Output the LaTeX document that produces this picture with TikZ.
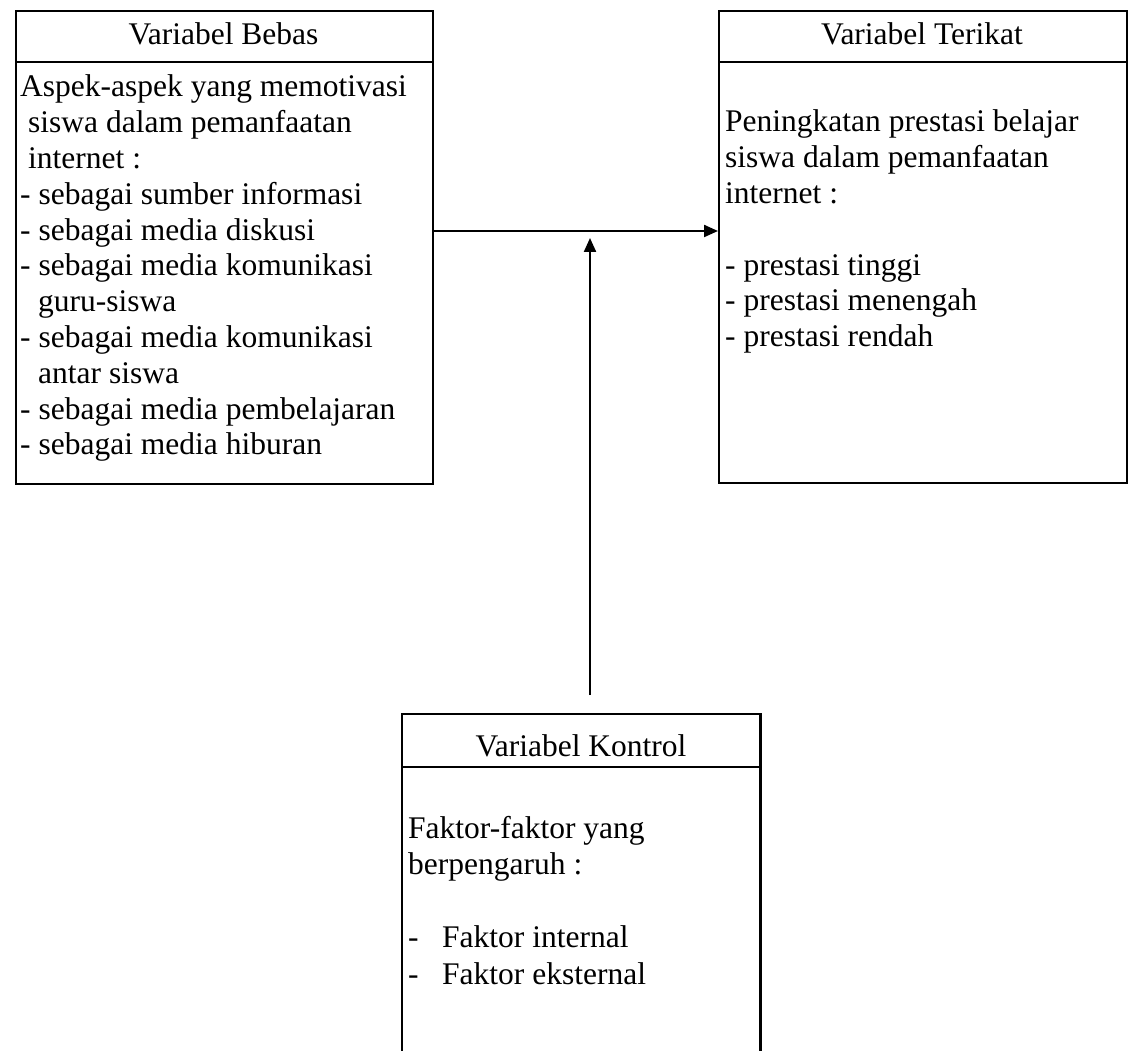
\documentclass[tikz,border=0pt]{standalone}
\usepackage{fontspec}
\setmainfont{Liberation Serif}
\usetikzlibrary{arrows.meta}
\newcommand\bodyfnt{\fontsize{31.5}{35.8}\selectfont}
\tikzset{
  boxframe/.style={draw, line width=2.2pt, inner sep=0pt, anchor=north west},
  headtxt/.style={font=\bodyfnt, inner sep=0pt, anchor=base},
  bodytxt/.style={font=\bodyfnt, inner sep=0pt, anchor=base west},
  sepline/.style={line width=2.2pt},
  conn/.style={line width=2.2pt, -{Triangle[length=14pt,width=12pt]}}
}
\begin{document}
\begin{tikzpicture}[x=1pt,y=-1pt]
\useasboundingbox[fill=white] (0,0) rectangle (1128,1051);

% Variabel Bebas
\node[boxframe, minimum width=417pt, minimum height=473pt] (bebas) at (15,10) {};
\draw[sepline] ([yshift=-52pt]bebas.north west) -- ([yshift=-52pt]bebas.north east);
\node[headtxt] (hbebas) at (223.5,45) {Variabel Bebas};
\node[bodytxt] (tbebas) at (20,97) {\parbox[t]{420pt}{\bodyfnt
Aspek-aspek yang memotivasi\\
\hspace*{8pt}siswa dalam pemanfaatan\\
\hspace*{8pt}internet :\\
- sebagai sumber informasi\\
- sebagai media diskusi\\
- sebagai media komunikasi\\
\hspace*{18pt}guru-siswa\\
- sebagai media komunikasi\\
\hspace*{18pt}antar siswa\\
- sebagai media pembelajaran\\
- sebagai media hiburan}};

% Variabel Terikat
\node[boxframe, minimum width=408pt, minimum height=472pt] (terikat) at (718,10) {};
\draw[sepline] ([yshift=-52pt]terikat.north west) -- ([yshift=-52pt]terikat.north east);
\node[headtxt] (hterikat) at (922,45) {Variabel Terikat};
\node[bodytxt] (tterikat) at (725,132) {\parbox[t]{400pt}{\bodyfnt
Peningkatan prestasi belajar\\
siswa dalam pemanfaatan\\
internet :\\
\mbox{}\\
- prestasi tinggi\\
- prestasi menengah\\
- prestasi rendah}};

% Variabel Kontrol
\node[inner sep=0pt, anchor=north west, minimum width=358pt, minimum height=337pt] (kontrol) at (402,714) {};
\draw[line width=2.2pt] (kontrol.south west) -- (kontrol.north west) -- (kontrol.north east) -- (kontrol.south east);
\draw[sepline] ([yshift=-53pt]kontrol.north west) -- ([yshift=-53pt]kontrol.north east);
\node[headtxt] (hkontrol) at (581,756) {Variabel Kontrol};
\node[bodytxt] (tkontrol) at (408,838) {\parbox[t]{340pt}{\fontsize{31.5}{36.5}\selectfont
Faktor-faktor yang\\
berpengaruh :\\
\mbox{}\\
\makebox[34pt][l]{-}Faktor internal\\
\makebox[34pt][l]{-}Faktor eksternal}};

% connectors
\coordinate (join) at (590,238);
\coordinate (ctrlstart) at (590,695);
\draw[conn] (bebas.east |- 0,231) -- (terikat.west |- 0,231);
\draw[conn] (ctrlstart) -- (join);
\end{tikzpicture}
\end{document}
